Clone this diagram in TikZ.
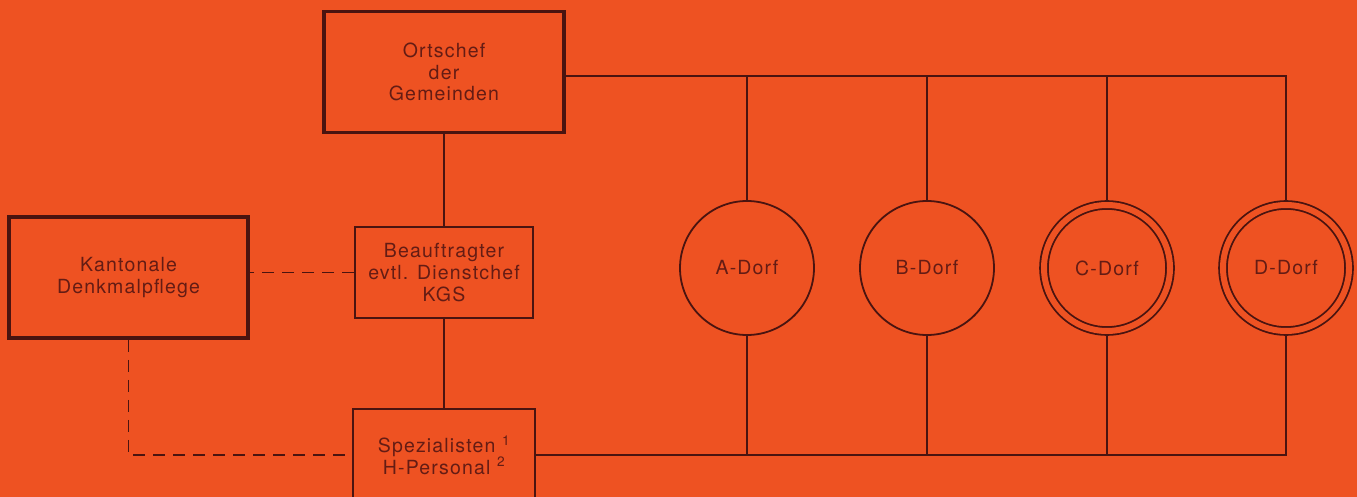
\documentclass[tikz,border=0pt]{standalone}
\usepackage{fontspec}
\setmainfont[LetterSpace=6]{TeX Gyre Heros}
\usetikzlibrary{positioning}
\definecolor{sheet}{RGB}{238,82,34}
\definecolor{ink}{RGB}{74,20,16}
\definecolor{letter}{RGB}{100,28,20}
\tikzset{
  amt/.style={rectangle, draw=ink, line width=1.8pt, fill=sheet, text=letter, align=center, inner sep=0pt},
  hauptamt/.style={amt, line width=3.5pt},
  dorf/.style={circle, draw=ink, line width=1.8pt, fill=sheet, text=letter, minimum size=134pt, inner sep=0pt},
  schutzdorf/.style={dorf, double=sheet, double distance=6pt, minimum size=126pt, outer sep=5pt},
  leitung/.style={draw=ink, line width=1.8pt},
  hilfslinie/.style={leitung, dash pattern=on 12pt off 8pt}
}

\begin{document}
\begin{tikzpicture}[x=1pt, y=-1pt, font=\fontsize{19.5}{21.7}\selectfont]
  \fill[sheet] (0,0) rectangle (1357,497);
  \useasboundingbox (0,0) rectangle (1357,497);

  \node[hauptamt, minimum width=240, minimum height=121] (ortschef) at (444,72) {Ortschef\\der\\Gemeinden};
  \node[hauptamt, minimum width=239, minimum height=121] (kanton) at (128.5,277.5) {Kantonale\\Denkmalpflege};
  \node[amt, minimum width=178, minimum height=91] (beauftragter) at (444,272.5) {Beauftragter\\evtl. Dienstchef\\KGS};
  \node[amt, minimum width=182, minimum height=92] (spezial) at (444,455) {Spezialisten \textsuperscript{1}\\H-Personal \textsuperscript{2}};

  \node[dorf] (dorfA) at (747,268) {A-Dorf};
  \node[dorf] (dorfB) at (927,268) {B-Dorf};
  \node[schutzdorf] (dorfC) at (1107,268) {C-Dorf};
  \node[schutzdorf] (dorfD) at (1286,268) {D-Dorf};
  \coordinate (oben) at (0,76);

  \draw[leitung] (ortschef) -- (beauftragter);
  \draw[leitung] (beauftragter) -- (spezial);
  \draw[hilfslinie] (beauftragter.west) -- (beauftragter.west -| kanton.east);
  \draw[hilfslinie] (kanton.south) |- (spezial.west);

  \draw[leitung] (ortschef.east |- oben) -| (dorfD.north);
  \draw[leitung] (spezial.east) -| (dorfD.south);
  \foreach \d in {dorfA,dorfB,dorfC}{
    \draw[leitung] (\d |- oben) -- (\d.north);
    \draw[leitung] (\d.south) -- (\d |- spezial.east);
  }
\end{tikzpicture}
\end{document}
